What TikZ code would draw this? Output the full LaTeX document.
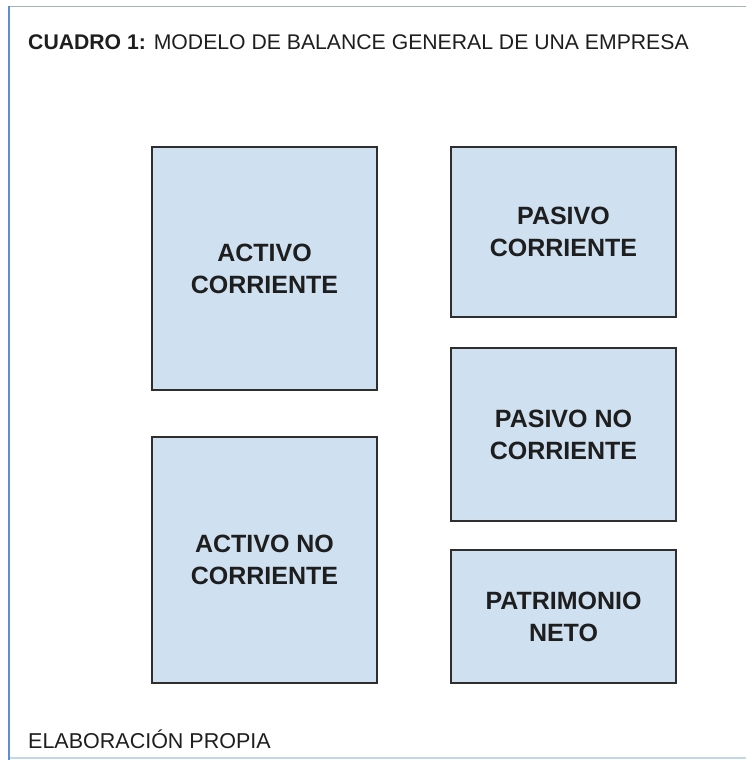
\documentclass[tikz,border=0pt]{standalone}
\usepackage{fontspec}
\setmainfont{Liberation Sans}
\definecolor{boxfill}{HTML}{CFE0F1}
\definecolor{boxline}{HTML}{2E2E2E}
\definecolor{leftblue}{HTML}{5B8FD0}
\definecolor{topgray}{HTML}{A8B0B8}
\definecolor{botblue}{HTML}{C4D6EC}
\definecolor{txt}{HTML}{1E1E1E}
\begin{document}
\begin{tikzpicture}[x=1pt,y=-1pt,
  acct/.style={draw=boxline, line width=1.4pt, fill=boxfill, minimum width=225pt,
    inner sep=0pt, align=center, text=txt,
    font=\fontsize{25}{32}\selectfont\bfseries},
  caption/.style={anchor=base west, inner sep=0pt, text=txt}]
\useasboundingbox (0,0) rectangle (746,760);
\fill[white] (0,0) rectangle (746,760);
\draw[topgray, line width=1pt] (9,7) -- (746,7);
\draw[botblue, line width=1.5pt] (9,758) -- (746,758);
\draw[leftblue, line width=2pt] (9,6.5) -- (9,760);
\node[caption, font=\fontsize{21.2}{24}\selectfont] (title) at (28,50)
  {\textbf{CUADRO 1:} MODELO DE BALANCE GENERAL DE UNA EMPRESA};
\node[caption, font=\fontsize{21.5}{24}\selectfont] (foot) at (28,748)
  {ELABORACIÓN PROPIA};
\node[acct, minimum height=243pt] (ac) at (264.5,268.5) {ACTIVO\\CORRIENTE};
\node[acct, minimum height=246pt] (anc) at (264.5,560) {ACTIVO NO\\CORRIENTE};
\node[acct, minimum height=170pt] (pc) at (563.5,232) {PASIVO\\CORRIENTE};
\node[acct, minimum height=173pt] (pnc) at (563.5,434.5) {PASIVO NO\\CORRIENTE};
\node[acct, minimum height=133pt] (pn) at (563.5,616.5) {PATRIMONIO\\NETO};
\end{tikzpicture}
\end{document}
